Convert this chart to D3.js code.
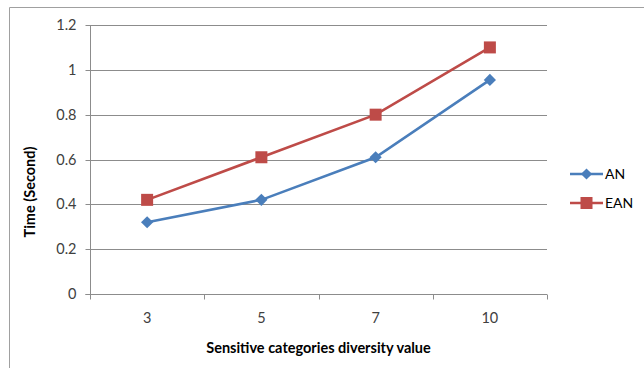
<!DOCTYPE html>
<html><head><meta charset="utf-8">
<script src="https://cdn.jsdelivr.net/npm/d3@7"></script>
<style>body{margin:0;background:#fff}svg{display:block;font-family:Lato,"Open Sans",sans-serif}</style>
</head><body><svg id="c" width="644" height="368"></svg>
<script>
const categories = ["3","5","7","10"];
const seriesAN = [0.32, 0.42, 0.61, 0.955];
const seriesEAN = [0.42, 0.61, 0.80, 1.10];
const yTicks = [0, 0.2, 0.4, 0.6, 0.8, 1.0, 1.2];
const yTickLabels = ["0","0.2","0.4","0.6","0.8","1","1.2"];
const seriesNames = ["AN","EAN"];
const colors = ["#4A7EBB","#BE4B48"];

const svg = d3.select("#c");
const m = {l:90, r:547, t:25, b:294};
const x = d3.scaleBand().domain(categories).range([m.l, m.r]);
const y = d3.scaleLinear().domain([0,1.2]).range([m.b, m.t]);

// outer frame
svg.append("path").attr("d","M9.5,400V7.5H700").attr("fill","none").attr("stroke","#a0a0a0").attr("stroke-width",1);

// gridlines
svg.append("g").selectAll("line").data(yTicks.slice(1)).join("line")
  .attr("x1",m.l).attr("x2",m.r).attr("y1",d=>Math.round(y(d))+0.5).attr("y2",d=>Math.round(y(d))+0.5)
  .attr("stroke","#8c8c8c").attr("stroke-width",1);

// y axis
const ya = svg.append("g").attr("transform",`translate(${m.l+0.5},0)`)
  .call(d3.axisLeft(y).tickValues(yTicks).tickFormat((d,i)=>yTickLabels[i]).tickSize(5).tickPadding(9));
ya.select(".domain").attr("stroke","#8c8c8c").attr("d",`M-5,${m.b+0.5}H0V${m.t}`);
ya.selectAll(".tick line").attr("stroke","#8c8c8c");
ya.selectAll(".tick").attr("transform",d=>`translate(0,${Math.round(y(d))+0.5})`);
ya.selectAll("text").attr("font-size",14.5).attr("fill","#404040").attr("font-family","Lato,'Open Sans',sans-serif");

// x axis
const xa = svg.append("g").attr("transform",`translate(0,${m.b+0.5})`);
xa.append("line").attr("x1",m.l).attr("x2",m.r).attr("stroke","#8c8c8c");
const edges = categories.map(c=>x(c)).concat([m.r]);
xa.selectAll(".tk").data(edges).join("line").attr("class","tk")
  .attr("x1",d=>Math.round(d)+0.5).attr("x2",d=>Math.round(d)+0.5).attr("y1",0).attr("y2",5).attr("stroke","#8c8c8c");
xa.selectAll("text").data(categories).join("text")
  .attr("x",d=>x(d)+x.bandwidth()/2).attr("y",28).attr("text-anchor","middle")
  .attr("font-size",14.5).attr("fill","#404040").text(d=>d);

// axis titles
svg.append("text").attr("x",(m.l+m.r)/2).attr("y",353).attr("text-anchor","middle")
  .attr("font-size",14.5).attr("font-weight","bold").attr("fill","#000").text("Sensitive categories diversity value");
svg.append("text").attr("transform",`translate(35,192) rotate(-90)`).attr("text-anchor","middle")
  .attr("font-size",14.5).attr("font-weight","bold").attr("fill","#000").text("Time (Second)");

const cx = d=>x(d)+x.bandwidth()/2;
const line = d3.line().x(d=>cx(d.c)).y(d=>y(d.v));
const all = [seriesAN, seriesEAN].map((s,i)=>s.map((v,j)=>({c:categories[j],v})));

all.forEach((pts,i)=>{
  svg.append("path").datum(pts).attr("d",line).attr("fill","none").attr("stroke",colors[i]).attr("stroke-width",2.6);
});
// markers
svg.append("g").selectAll("path").data(all[0]).join("path")
  .attr("transform",d=>`translate(${cx(d.c)},${y(d.v)})`)
  .attr("d",d3.symbol(d3.symbolDiamond2,95)).attr("fill",colors[0]);
svg.append("g").selectAll("rect").data(all[1]).join("rect")
  .attr("x",d=>cx(d.c)-6).attr("y",d=>y(d.v)-6).attr("width",12).attr("height",12).attr("fill",colors[1]);

// legend
const lg = svg.append("g");
seriesNames.forEach((n,i)=>{
  const ly = 174 + i*29;
  lg.append("line").attr("x1",570).attr("x2",603).attr("y1",ly).attr("y2",ly).attr("stroke",colors[i]).attr("stroke-width",2.6);
  if(i===0) lg.append("path").attr("transform",`translate(586.5,${ly})`).attr("d",d3.symbol(d3.symbolDiamond2,80)).attr("fill",colors[i]);
  else lg.append("rect").attr("x",580.5).attr("y",ly-6).attr("width",12).attr("height",12).attr("fill",colors[i]);
  lg.append("text").attr("x",605).attr("y",ly+5).attr("font-size",14).attr("fill","#000").text(n);
});
</script></body></html>
